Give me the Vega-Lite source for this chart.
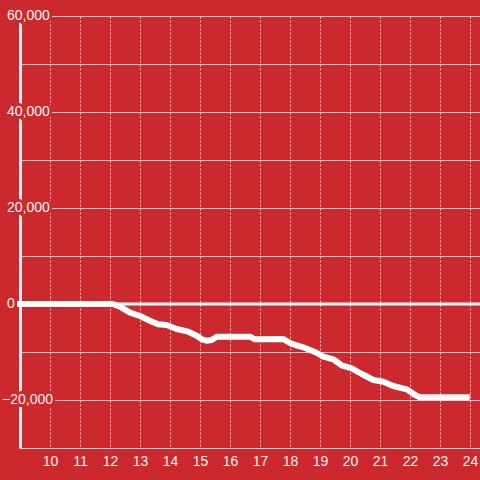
{
  "$schema": "https://vega.github.io/schema/vega-lite/v6.json",
  "width": 460,
  "height": 432,
  "autosize": {"type": "none"},
  "padding": {"left": 20, "top": 16, "right": 0, "bottom": 32},
  "background": "#cc292e",
  "config": {
    "view": {"stroke": null},
    "axis": {"labelFont": "Liberation Sans", "labelFontSize": 14, "labelColor": "#f2f2f2", "ticks": false, "title": null}
  },
  "datasets": {
    "series": [
      {"hour": 9.0, "value": 0},
      {"hour": 12.1, "value": 0},
      {"hour": 12.33, "value": -560},
      {"hour": 12.67, "value": -1810},
      {"hour": 13.0, "value": -2500},
      {"hour": 13.33, "value": -3480},
      {"hour": 13.6, "value": -4230},
      {"hour": 13.89, "value": -4375},
      {"hour": 14.22, "value": -5210},
      {"hour": 14.61, "value": -5770},
      {"hour": 14.89, "value": -6600},
      {"hour": 15.06, "value": -7350},
      {"hour": 15.22, "value": -7650},
      {"hour": 15.39, "value": -7500},
      {"hour": 15.56, "value": -6800},
      {"hour": 15.89, "value": -6800},
      {"hour": 16.67, "value": -6800},
      {"hour": 16.83, "value": -7350},
      {"hour": 17.78, "value": -7300},
      {"hour": 18.06, "value": -8330},
      {"hour": 18.44, "value": -9020},
      {"hour": 18.89, "value": -10150},
      {"hour": 19.11, "value": -10980},
      {"hour": 19.44, "value": -11520},
      {"hour": 19.72, "value": -12770},
      {"hour": 20.06, "value": -13400},
      {"hour": 20.39, "value": -14580},
      {"hour": 20.78, "value": -15830},
      {"hour": 21.11, "value": -16190},
      {"hour": 21.44, "value": -17080},
      {"hour": 21.89, "value": -17770},
      {"hour": 22.17, "value": -18960},
      {"hour": 22.33, "value": -19440},
      {"hour": 23.89, "value": -19440}
    ],
    "zero": [{"value": 0}],
    "ylabels": [{"value": -20000}, {"value": 0}, {"value": 20000}, {"value": 40000}, {"value": 60000}]
  },
  "encoding": {
    "x": {"type": "quantitative", "scale": {"domain": [9, 24.3333], "nice": false, "zero": false},
      "axis": {
        "values": [10, 11, 12, 13, 14, 15, 16, 17, 18, 19, 20, 21, 22, 23, 24],
        "format": "d",
        "domain": true, "domainColor": "#dddddd", "domainWidth": 1,
        "grid": true, "gridColor": "#dddddd", "gridDash": [2, 2], "gridWidth": 1,
        "labelPadding": 6
      }
    },
    "y": {"field": "value", "type": "quantitative", "scale": {"domain": [-30000, 60000], "nice": false, "zero": false},
      "axis": {
        "values": [-30000, -20000, -10000, 0, 10000, 20000, 30000, 40000, 50000, 60000],
        "labels": false,
        "domain": true, "domainColor": "#eeeeee", "domainWidth": 3,
        "grid": true, "gridColor": "#cccccc", "gridWidth": 1
      }
    }
  },
  "layer": [
    {
      "data": {"name": "zero"},
      "mark": {"type": "rule", "color": "#ffffff", "strokeWidth": 3},
      "encoding": {"x": null}
    },
    {
      "data": {"name": "ylabels"},
      "transform": [{"filter": "datum.value >= 0"}],
      "mark": {"type": "text", "align": "left", "baseline": "middle", "dx": -13, "font": "Liberation Sans", "fontSize": 14, "fill": "#cc292e", "stroke": "#cc292e", "strokeWidth": 6, "strokeJoin": "round"},
      "encoding": {
        "x": {"datum": 9},
        "text": {"field": "value", "type": "quantitative", "format": ","}
      }
    },
    {
      "data": {"name": "ylabels"},
      "transform": [{"filter": "datum.value < 0"}],
      "mark": {"type": "text", "align": "left", "baseline": "middle", "dx": -18, "font": "Liberation Sans", "fontSize": 14, "fill": "#cc292e", "stroke": "#cc292e", "strokeWidth": 6, "strokeJoin": "round"},
      "encoding": {
        "x": {"datum": 9},
        "text": {"field": "value", "type": "quantitative", "format": ","}
      }
    },
    {
      "data": {"name": "ylabels"},
      "transform": [{"filter": "datum.value >= 0"}],
      "mark": {"type": "text", "align": "left", "baseline": "middle", "dx": -13, "font": "Liberation Sans", "fontSize": 14, "color": "#f2f2f2"},
      "encoding": {
        "x": {"datum": 9},
        "text": {"field": "value", "type": "quantitative", "format": ","}
      }
    },
    {
      "data": {"name": "ylabels"},
      "transform": [{"filter": "datum.value < 0"}],
      "mark": {"type": "text", "align": "left", "baseline": "middle", "dx": -18, "font": "Liberation Sans", "fontSize": 14, "color": "#f2f2f2"},
      "encoding": {
        "x": {"datum": 9},
        "text": {"field": "value", "type": "quantitative", "format": ","}
      }
    },
    {
      "data": {"name": "series"},
      "mark": {"type": "line", "color": "#ffffff", "strokeWidth": 6, "strokeJoin": "round", "strokeCap": "square"},
      "encoding": {
        "x": {"field": "hour"}
      }
    }
  ]
}
